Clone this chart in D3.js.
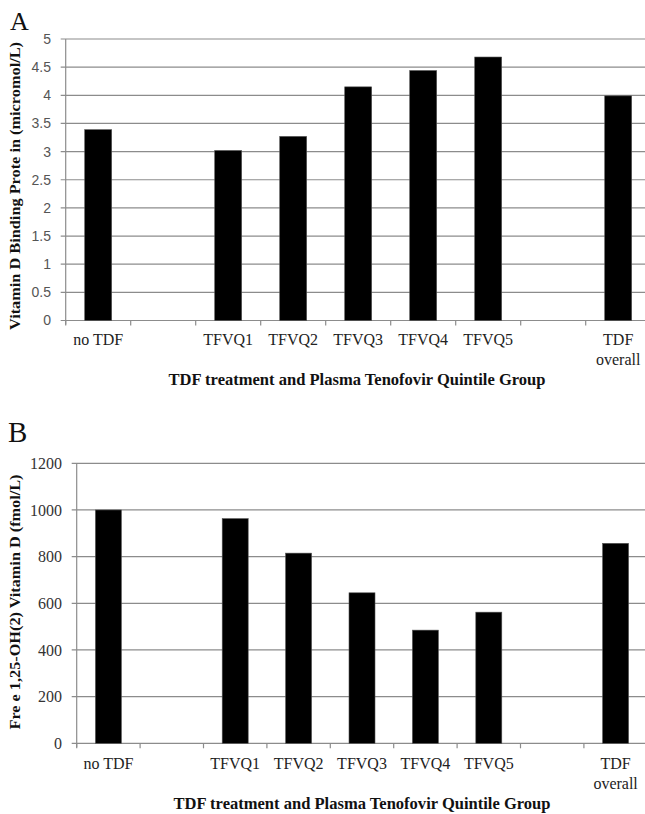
<!DOCTYPE html>
<html>
<head>
<meta charset="utf-8">
<script src="https://cdn.jsdelivr.net/npm/d3@7"></script>
<style>
  html, body { margin: 0; padding: 0; background: #fff; }
  svg { display: block; }
</style>
</head>
<body>
<svg id="chart" width="645" height="814"></svg>
<script>
// ---- Data ----
const categories = ["no TDF", "", "TFVQ1", "TFVQ2", "TFVQ3", "TFVQ4", "TFVQ5", "", "TDF overall"];
const valuesA = [3.39, null, 3.02, 3.27, 4.15, 4.44, 4.68, null, 3.99];
const valuesB = [1000, null, 963, 815, 645, 485, 562, null, 857];
const ticksA = [0, 0.5, 1, 1.5, 2, 2.5, 3, 3.5, 4, 4.5, 5];
const ticksB = [0, 200, 400, 600, 800, 1000, 1200];
const xTitle = "TDF treatment and Plasma Tenofovir Quintile Group";
const yTitleA = "Vitamin D Binding Prote in (micromol/L)";
const yTitleB = "Fre e 1,25-OH(2) Vitamin D (fmol/L)";

const svg = d3.select("#chart");
const serif = "'Liberation Serif', 'Times New Roman', serif";
const sans = "'Liberation Sans', Arial, sans-serif";

function panel(opts) {
  const g = svg.append("g");
  const x = d3.scaleBand().domain(d3.range(categories.length)).range([opts.left, opts.right]).padding(0);
  const y = d3.scaleLinear().domain(opts.domain).range([opts.bottom, opts.top]);

  // gridlines
  g.append("g").selectAll("line").data(opts.ticks.slice(1)).join("line")
    .attr("x1", opts.left - 5).attr("x2", 645)
    .attr("y1", d => y(d)).attr("y2", d => y(d))
    .attr("stroke", "#8c8c8c").attr("stroke-width", 1.2);

  // y axis line + zero line
  g.append("line").attr("x1", opts.left).attr("x2", opts.left)
    .attr("y1", y(opts.domain[1])).attr("y2", y(0) + 4)
    .attr("stroke", "#8c8c8c").attr("stroke-width", 1.2);
  g.append("line").attr("x1", opts.left - 5).attr("x2", 645)
    .attr("y1", y(0)).attr("y2", y(0))
    .attr("stroke", "#8c8c8c").attr("stroke-width", 1.2);

  // x category ticks
  g.append("g").selectAll("line").data(d3.range(categories.length + 1)).join("line")
    .attr("x1", i => opts.left + i * x.step()).attr("x2", i => opts.left + i * x.step())
    .attr("y1", y(0)).attr("y2", y(0) + 5)
    .attr("stroke", "#8c8c8c").attr("stroke-width", 1.2);

  // bars
  const bw = x.bandwidth() * opts.barFrac;
  g.append("g").selectAll("rect").data(opts.values.map((v, i) => ({v, i})).filter(d => d.v != null)).join("rect")
    .attr("x", d => x(d.i) + x.bandwidth() / 2 - bw / 2)
    .attr("width", bw)
    .attr("y", d => y(d.v))
    .attr("height", d => y(0) - y(d.v))
    .attr("fill", "#000").attr("stroke", "#555").attr("stroke-width", 0.6);

  // y tick labels
  g.append("g").selectAll("text").data(opts.ticks).join("text")
    .attr("x", opts.labelX).attr("y", d => y(d))
    .attr("dy", "0.35em").attr("text-anchor", "end")
    .attr("font-family", opts.tickFont).attr("font-size", opts.tickSize)
    .attr("fill", opts.tickColor)
    .text(opts.tickFormat);

  // x category labels
  const lab = g.append("g").selectAll("text").data(categories.map((c, i) => ({c, i})).filter(d => d.c !== "")).join("text")
    .attr("x", d => x(d.i) + x.bandwidth() / 2)
    .attr("y", opts.catY)
    .attr("text-anchor", "middle")
    .attr("font-family", serif).attr("font-size", 16).attr("fill", "#222");
  lab.each(function(d) {
    const parts = d.c === "TDF overall" ? ["TDF", "overall"] : [d.c];
    const t = d3.select(this);
    parts.forEach((p, k) => {
      t.append("tspan").attr("x", x(d.i) + x.bandwidth() / 2).attr("dy", k === 0 ? 0 : 19.5).text(p);
    });
  });

  // x title
  g.append("text").attr("x", opts.xTitleX).attr("y", opts.xTitleY)
    .attr("text-anchor", "middle").attr("font-family", serif).attr("font-weight", "bold")
    .attr("font-size", 16.5).attr("fill", "#111")
    .attr("textLength", 377).attr("lengthAdjust", "spacingAndGlyphs")
    .text(xTitle);

  // y title
  g.append("text").attr("transform", `translate(20,${opts.yTitleC}) rotate(-90)`)
    .attr("text-anchor", "middle").attr("font-family", serif).attr("font-weight", "bold")
    .attr("font-size", 15).attr("fill", "#111")
    .attr("textLength", opts.yTitleLen).attr("lengthAdjust", "spacingAndGlyphs")
    .text(opts.yTitle);

  // panel letter
  g.append("text").attr("x", opts.letterX).attr("y", opts.letterY)
    .attr("font-family", serif).attr("font-size", opts.letterSize).attr("fill", "#111")
    .text(opts.letter);
}

panel({
  left: 65.7, right: 650.7, top: 39, bottom: 320.5,
  domain: [0, 5], ticks: ticksA, values: valuesA, barFrac: 0.415,
  labelX: 51, tickFont: sans, tickSize: 14, tickColor: "#555",
  tickFormat: d => String(d),
  catY: 345, xTitleX: 357, xTitleY: 385,
  yTitle: yTitleA, yTitleC: 186, yTitleLen: 288,
  letter: "A", letterX: 10, letterY: 30, letterSize: 26
});

panel({
  left: 76.7, right: 647.3, top: 463.3, bottom: 743.3,
  domain: [0, 1200], ticks: ticksB, values: valuesB, barFrac: 0.41,
  labelX: 62, tickFont: serif, tickSize: 16, tickColor: "#333",
  tickFormat: d => String(d),
  catY: 769, xTitleX: 362, xTitleY: 809,
  yTitle: yTitleB, yTitleC: 602, yTitleLen: 255,
  letter: "B", letterX: 8, letterY: 441.5, letterSize: 29
});
</script>
</body>
</html>
